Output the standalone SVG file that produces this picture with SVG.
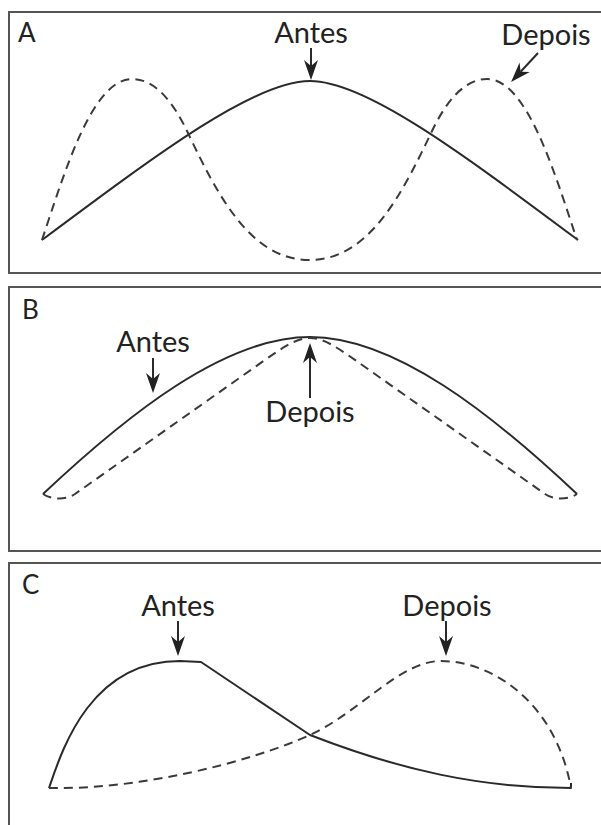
<svg xmlns="http://www.w3.org/2000/svg" width="601" height="825" viewBox="0 0 601 825">
<style>
.panel{fill:none;stroke:#555;stroke-width:2}
.solid{fill:none;stroke:#2a2a2a;stroke-width:2;stroke-linejoin:round}
.dash{fill:none;stroke:#3a3a3a;stroke-width:2;stroke-dasharray:9 6}
.arrow{stroke:#2a2a2a;stroke-width:2;marker-end:url(#ah)}
.lbl{font-family:Lato,"Liberation Sans",sans-serif;font-size:29px;fill:#222}
.pl{font-family:Lato,"Liberation Sans",sans-serif;font-size:26px;fill:#222}
.mid{text-anchor:middle}
</style>
<defs>
<marker id="ah" markerUnits="userSpaceOnUse" markerWidth="22" markerHeight="16" viewBox="0 -8 22 16" refX="6" refY="0" orient="auto">
<path d="M0,-7 L20,0 L0,7 L6,0 Z" fill="#222"/>
</marker>
</defs>
<g id="panelA">
<rect class="panel" x="9" y="12" width="600" height="261"/>
<text class="pl" x="18" y="42">A</text>
<path class="solid" d="M42,240 C160,152 255,81 310,81 C365,81 460,152 578,240"/>
<path class="dash" d="M42,240 C64,174 92,79 132,79 C157,79 175,106 187,131 C217,194 250,260 309.5,260 C369,260 402,194 432,131 C444,106 462,79 487,79 C527,79 555,174 577,240"/>
<text class="lbl mid" x="311" y="43">Antes</text>
<text class="lbl mid" x="546" y="45">Depois</text>
</g>
<g id="panelB">
<rect class="panel" x="9" y="287" width="600" height="264"/>
<text class="pl" x="22" y="319">B</text>
<path class="solid" d="M43,494 C128,414 225,337 310,337 C395,337 492,414 577,494"/>
<path class="dash" d="M43,494 C50,499 65,501 75,494 L255,367 C280,349.4 295,338 310,338 C325,338 340,349.4 365,367 L545,494 C555,501 570,499 577,494"/>
<text class="lbl mid" x="153" y="352">Antes</text>
<text class="lbl mid" x="310" y="422">Depois</text>
</g>
<g id="panelC">
<rect class="panel" x="9" y="563" width="600" height="270"/>
<text class="pl" x="22" y="594">C</text>
<path class="solid" d="M49,788 C62,750 90,661 180,661 L201,662 L310,735 C400,770 480,788 571,788 L571,783"/>
<path class="dash" d="M49,788 C140,790 250,762 310,735 C360,712 400,661 441,661 C490,661 555,700 571,788"/>
<text class="lbl mid" x="178" y="616">Antes</text>
<text class="lbl mid" x="447" y="616">Depois</text>
</g>
<g id="connectors">
<line class="arrow" x1="311" y1="48" x2="311" y2="66"/>
<line class="arrow" x1="538" y1="53" x2="520.6" y2="71.7"/>
<line class="arrow" x1="153" y1="358" x2="153" y2="379"/>
<line class="arrow" x1="310" y1="398" x2="310" y2="357"/>
<line class="arrow" x1="178" y1="621" x2="178" y2="642"/>
<line class="arrow" x1="446" y1="621" x2="446" y2="642"/>
</g>
</svg>
